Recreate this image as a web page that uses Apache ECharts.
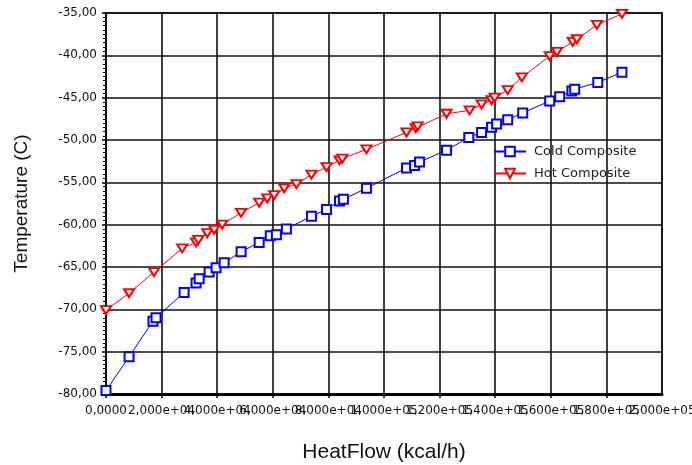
<!DOCTYPE html>
<html>
<head>
<meta charset="utf-8">
<script src="https://cdn.jsdelivr.net/npm/echarts@6/dist/echarts.min.js"></script>
<style>
html,body{margin:0;padding:0;background:#fff;}
#chart{width:692px;height:465px;}
</style>
</head>
<body>
<div id="chart"></div>
<script>
const seriesNames = ['Cold Composite', 'Hot Composite'];
const coldHeat = [0, 8300, 16900, 18000, 28100, 32400, 33500, 37100, 39600, 42500, 48600, 55100, 59100, 61300, 64900, 73900, 79300, 84000, 85400, 93700, 108100, 111000, 112800, 122500, 130500, 135100, 138700, 140500, 144500, 149900, 159600, 163200, 167600, 168600, 176900, 185600];
const coldTemp = [-79.6, -75.6, -71.4, -71.0, -68.0, -66.9, -66.4, -65.6, -65.1, -64.5, -63.2, -62.1, -61.3, -61.2, -60.5, -59.0, -58.2, -57.2, -57.0, -55.7, -53.3, -53.0, -52.6, -51.2, -49.7, -49.1, -48.5, -48.1, -47.6, -46.8, -45.4, -44.9, -44.2, -44.0, -43.2, -42.0];
const hotHeat = [0, 8300, 17300, 27400, 32400, 33200, 36400, 38900, 41800, 48600, 55100, 58000, 60500, 64100, 68500, 73900, 79300, 84000, 85000, 93700, 108100, 111400, 112100, 122500, 130800, 135100, 138700, 139800, 144500, 149600, 159600, 162200, 167900, 169400, 176600, 185600];
const hotTemp = [-70.1, -68.1, -65.6, -62.8, -62.1, -61.8, -61.0, -60.6, -60.0, -58.6, -57.4, -56.9, -56.5, -55.7, -55.2, -54.1, -53.2, -52.4, -52.2, -51.1, -49.1, -48.6, -48.4, -46.9, -46.5, -45.8, -45.3, -45.0, -44.1, -42.6, -40.1, -39.6, -38.4, -38.1, -36.4, -35.1];
const xTickLabels = ['0,0000', '2,000e+04', '4,000e+04', '6,000e+04', '8,000e+04', '1,000e+05', '1,200e+05', '1,400e+05', '1,600e+05', '1,800e+05', '2,000e+05'];
const yTickLabels = ['-80,00', '-75,00', '-70,00', '-65,00', '-60,00', '-55,00', '-50,00', '-45,00', '-40,00', '-35,00'];
const xMin = 0, xMax = 200000, xStep = 20000;
const yMin = -80, yMax = -35, yStep = 5;

const zip = (a, b) => a.map((v, i) => [v, b[i]]);
const xIndex = v => Math.round((v - xMin) / xStep);
const lastX = xTickLabels.length - 1;

const chart = echarts.init(document.getElementById('chart'), null, {renderer: 'canvas'});
const tickFont = {fontFamily: 'DejaVu Sans', fontSize: 12, color: '#111'};
chart.setOption({
  animation: false,
  backgroundColor: '#fff',
  grid: {left: 106, right: 30, top: 13, bottom: 71, show: true, borderColor: '#000', borderWidth: 1.5, outerBoundsMode: 'none'},
  legend: {
    data: seriesNames,
    orient: 'vertical',
    left: 488, top: 140,
    itemWidth: 32, itemHeight: 12, itemGap: 9,
    selectedMode: false,
    textStyle: {fontFamily: 'DejaVu Sans', fontSize: 13, color: '#222', padding: [0, 0, 0, 3]}
  },
  xAxis: [{
    type: 'value', min: xMin, max: xMax, interval: xStep, position: 'bottom',
    name: 'HeatFlow (kcal/h)', nameLocation: 'middle', nameGap: 48,
    nameTextStyle: {fontFamily: 'Liberation Sans', fontSize: 21, color: '#111'},
    axisLine: {show: true, onZero: false, lineStyle: {color: '#000', width: 3}},
    axisTick: {show: true, length: 4, lineStyle: {color: '#000', width: 1.5}},
    axisLabel: Object.assign({margin: 11, showMinLabel: true, showMaxLabel: false,
      formatter: v => xTickLabels[xIndex(v)]}, tickFont),
    splitLine: {show: true, lineStyle: {color: '#111', width: 1.6}}
  }, {
    type: 'value', min: xMin, max: xMax, interval: xStep, position: 'bottom', offset: 0,
    axisLine: {show: false}, axisTick: {show: false}, splitLine: {show: false},
    axisLabel: Object.assign({margin: 11, showMinLabel: false, showMaxLabel: true,
      formatter: v => (xIndex(v) === lastX ? xTickLabels[lastX] : '')}, tickFont)
  }],
  yAxis: {
    type: 'value', min: yMin, max: yMax, interval: yStep,
    name: 'Temperature (C)', nameLocation: 'middle', nameGap: 75,
    nameTextStyle: {fontFamily: 'Liberation Sans', fontSize: 19, color: '#111'},
    axisLine: {show: true, onZero: false, lineStyle: {color: '#000', width: 2}},
    axisTick: {show: true, length: 4, lineStyle: {color: '#000', width: 1.5}},
    minorTick: {show: true, splitNumber: 10, length: 3, lineStyle: {color: '#000', width: 1}},
    axisLabel: Object.assign({margin: 9, formatter: v => yTickLabels[Math.round((v - yMin) / yStep)]}, tickFont),
    splitLine: {show: true, lineStyle: {color: '#111', width: 1.6}}
  },
  series: [
    {
      name: seriesNames[0], type: 'line', xAxisIndex: 0, data: zip(coldHeat, coldTemp),
      symbol: 'emptyRect', symbolSize: 9,
      itemStyle: {color: '#0000ff', borderWidth: 1.2},
      lineStyle: {color: '#0000ff', width: 1}
    },
    {
      name: seriesNames[1], type: 'line', xAxisIndex: 0, data: zip(hotHeat, hotTemp),
      symbol: 'emptyTriangle', symbolSize: [10, 8], symbolRotate: 180,
      itemStyle: {color: '#ff0000', borderWidth: 1.2},
      lineStyle: {color: '#ff0000', width: 1}
    }
  ]
});
</script>
</body>
</html>
